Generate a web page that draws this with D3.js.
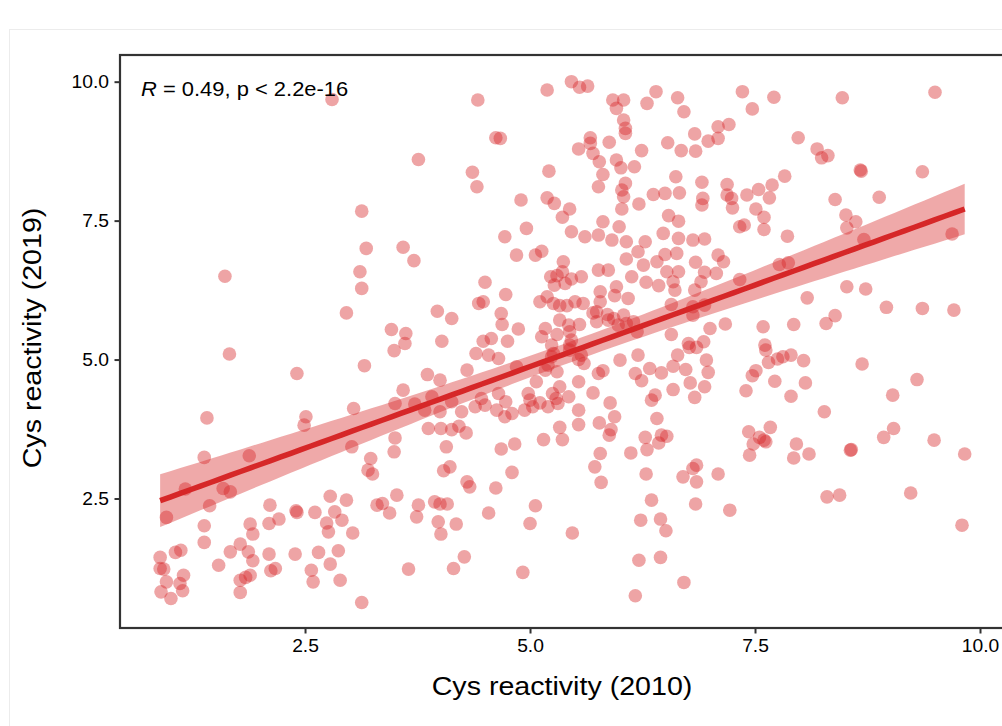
<!DOCTYPE html>
<html>
<head>
<meta charset="utf-8">
<script src="https://cdn.jsdelivr.net/npm/d3@7"></script>
<style>
  html, body { margin: 0; padding: 0; background: #fff; }
  svg { display: block; }
  text { font-family: "Liberation Sans", Arial, Helvetica, sans-serif; fill: #000; }
</style>
</head>
<body>
<svg id="chart" width="1002" height="726"></svg>
<script>
// ---- Data ----
const points2010 = [
  1.66,2.41,3.16,3.49,3.61,3.59,3.50,3.72,3.04,1.41,2.51,2.49,1.38,1.88,3.02,3.50,3.49,3.23,3.20,3.25,
  1.17,1.59,1.67,1.44,0.96,2.78,2.96,3.52,3.30,3.36,3.44,3.76,3.74,2.11,2.40,2.41,2.61,2.83,2.91,2.74,
  2.76,3.03,2.21,2.10,1.89,1.92,1.38,1.38,0.89,0.89,0.93,0.96,0.90,1.01,1.06,1.12,1.15,1.11,1.14,1.54,
  1.67,1.78,1.87,1.92,1.78,1.84,1.89,1.78,2.10,2.12,2.17,2.39,2.65,2.87,2.57,2.59,2.78,2.89,3.13,3.65,
  2.80,3.76,3.13,3.18,3.59,3.71,1.61,3.11,3.13,2.96,3.46,3.62,
  5.46,5.55,5.64,5.19,4.42,5.92,6.04,5.96,6.40,6.30,6.64,6.71,6.04,6.06,6.06,4.62,4.67,5.67,5.67,5.88,
  5.54,5.70,5.77,5.96,6.01,6.16,5.81,6.24,6.53,6.68,6.84,6.83,6.98,7.09,7.09,4.36,4.41,5.21,5.76,6.06,
  6.02,6.04,6.02,6.21,6.37,6.50,6.66,6.62,6.91,6.92,6.91,4.90,5.19,5.27,5.44,5.36,5.81,5.99,6.54,6.65,
  5.46,5.61,5.76,5.91,6.07,6.48,6.65,6.81,6.94,4.72,4.96,4.85,5.06,5.13,5.37,5.36,5.23,5.30,5.27,5.39,
  5.46,5.57,5.76,5.87,6.07,6.20,6.28,6.26,6.41,6.50,6.63,6.13,6.29,6.43,6.52,6.65,6.59,6.61,6.84,6.94,
  6.90,7.07,7.09,4.50,5.19,5.26,5.33,5.41,5.50,5.59,5.78,5.96,5.94,6.09,5.78,5.74,5.70,5.86,5.93,6.04,
  5.98,6.07,6.19,5.74,6.57,6.81,6.94,6.81,6.83,6.57,6.76,7.00,4.48,4.43,4.68,4.69,4.73,4.87,3.97,4.13,
  4.02,4.48,4.57,4.75,5.11,5.33,5.43,5.55,5.17,5.13,5.30,5.44,5.46,6.93,
  4.40,4.54,4.65,4.30,3.86,4.00,3.91,3.83,4.00,4.13,4.24,4.39,4.46,4.50,4.65,4.73,4.63,4.72,4.80,4.85,
  4.98,5.00,4.94,5.03,5.11,5.07,5.17,5.20,5.26,5.30,5.33,5.25,5.29,5.20,5.43,5.31,5.54,5.44,5.57,5.60,
  5.70,5.76,5.81,6.00,6.20,6.17,6.24,6.33,6.46,6.59,6.64,6.77,6.85,6.96,6.98,6.73,6.78,6.94,6.59,6.83,
  6.39,6.35,6.41,6.28,6.46,6.52,6.43,6.30,6.12,5.78,5.72,5.79,5.94,5.89,5.90,5.88,5.77,5.54,5.54,5.33,
  5.36,5.15,4.83,4.68,4.80,4.62,4.30,4.33,4.07,4.11,4.04,3.87,4.01,4.13,4.21,4.29,3.94,4.00,4.08,3.98,
  4.01,4.18,4.54,5.06,5.00,5.47,4.27,4.15,4.92,6.29,6.35,6.84,6.70,6.81,6.85,6.85,7.09,6.23,6.45,6.51,
  6.21,6.45,6.17,6.71,
  5.24,5.24,5.54,5.44,5.87,6.15,
  7.36,7.71,7.47,8.47,9.50,7.21,7.98,8.19,8.24,8.31,8.67,8.68,9.36,7.83,7.69,7.54,7.41,7.19,7.19,7.24,
  7.25,7.66,7.51,7.60,7.60,7.33,7.38,7.86,8.39,8.88,8.51,8.62,8.52,8.71,9.69,7.15,7.33,7.77,7.87,8.08,
  8.52,8.73,8.96,9.36,9.71,7.17,7.59,7.93,8.29,8.39,7.61,
  7.62,7.65,7.75,7.81,7.90,8.04,8.69,9.30,7.51,7.47,7.72,7.40,8.06,7.90,9.03,8.27,7.43,7.67,7.55,7.62,
  7.48,7.44,7.96,7.93,8.10,8.56,8.57,8.93,9.04,9.49,9.83,7.22,8.30,8.44,9.23,9.80,7.60
];
const points2019 = [
  5.10,4.75,4.89,5.16,5.29,4.45,4.21,4.20,4.12,3.95,3.97,3.82,3.24,3.27,3.43,3.59,3.34,3.22,3.01,2.94,
  2.67,2.68,2.62,2.37,2.16,2.54,2.47,2.56,2.38,2.41,2.24,2.38,2.17,2.38,2.28,2.25,2.25,2.26,2.11,2.06,
  1.90,1.88,2.13,2.05,2.04,1.86,2.01,1.71,1.44,1.24,1.23,1.00,0.82,0.70,1.53,1.57,1.12,0.97,0.84,1.30,
  1.54,1.68,1.54,1.38,1.03,1.08,1.12,0.81,1.50,1.20,1.24,1.50,1.53,1.56,1.21,1.00,1.32,1.03,0.63,1.23,
  9.68,8.60,7.67,7.00,7.02,6.78,6.50,6.58,6.28,5.84,5.54,5.47,
  10.0,9.90,9.92,9.85,9.67,9.67,9.67,9.52,9.82,9.61,9.71,9.46,9.31,9.16,9.07,8.99,8.98,8.99,8.89,8.91,
  8.79,8.71,8.56,8.59,8.45,8.47,8.33,8.76,8.90,8.76,8.75,9.06,8.93,9.19,8.98,8.37,8.11,8.39,8.11,8.17,
  8.05,7.93,7.71,7.80,7.97,7.99,8.00,8.29,8.19,7.90,7.78,7.87,7.91,7.81,7.71,7.56,7.48,7.39,7.59,7.49,
  7.30,7.21,7.24,7.15,7.12,7.27,7.18,7.15,7.17,7.21,7.36,6.88,6.88,6.95,6.76,6.58,6.49,6.51,6.34,6.37,
  6.45,6.49,6.61,6.61,6.81,6.94,7.12,6.70,6.76,6.89,6.91,6.49,6.39,6.33,6.58,6.58,6.40,6.25,6.75,6.57,
  6.40,6.55,6.88,6.39,6.13,6.01,5.97,5.97,6.04,6.01,6.22,6.31,6.15,6.10,6.04,5.86,5.84,5.81,5.74,5.80,
  5.62,5.65,5.50,5.68,5.99,5.95,5.98,5.80,6.25,5.45,5.29,5.56,6.04,6.01,5.83,5.63,6.17,5.55,5.87,5.74,
  5.33,5.33,5.38,5.33,6.04,5.71,5.62,5.63,5.56,5.41,5.45,5.50,5.35,5.32,
  5.11,5.08,5.02,4.81,4.73,4.63,4.33,4.09,4.06,4.24,4.06,4.15,4.30,4.18,4.39,4.24,4.09,3.97,4.03,4.87,
  4.39,4.27,4.09,4.15,4.22,4.60,4.81,4.90,5.11,4.78,4.51,4.39,4.30,4.15,4.33,4.21,4.60,5.26,5.08,4.93,
  4.40,4.75,4.80,4.99,5.08,4.75,4.62,4.84,4.76,4.88,5.08,5.22,5.22,4.99,4.77,4.82,4.58,4.51,4.46,4.32,
  4.36,4.27,3.94,3.60,3.64,3.62,3.50,3.38,3.32,3.31,3.07,2.79,3.97,4.22,3.74,3.64,3.86,4.09,3.83,3.78,
  3.56,3.56,3.48,3.39,2.97,2.69,2.80,2.71,3.43,3.07,3.00,3.76,3.76,3.74,3.80,3.68,2.44,2.40,2.40,2.08,
  1.86,2.04,2.24,2.37,2.05,1.88,1.45,1.24,1.17,2.94,2.47,2.40,2.89,3.04,3.10,2.80,2.94,2.11,2.13,1.92,
  1.39,1.44,0.75,0.99,
  5.26,5.05,5.00,5.17,5.71,5.68,
  9.82,9.72,9.51,9.71,9.81,9.23,8.99,8.79,8.63,8.67,8.41,8.39,8.38,8.30,8.14,8.06,7.96,8.15,7.96,7.90,
  7.73,7.91,7.71,7.56,7.34,7.39,7.42,7.22,7.88,7.92,7.60,7.48,7.37,7.16,7.26,6.76,6.44,6.71,6.74,6.11,
  6.31,6.27,5.94,5.92,5.89,5.64,5.59,5.63,5.65,5.79,5.26,
  5.17,4.95,5.01,5.05,5.08,4.98,4.92,4.64,4.80,4.71,4.61,4.44,4.58,4.34,4.36,4.06,3.70,3.78,3.60,3.52,
  3.48,3.28,3.48,3.23,3.30,3.37,3.38,3.60,3.76,3.55,3.30,2.29,2.53,2.56,2.60,2.02,3.55
];
const xTicks = [2.5, 5.0, 7.5, 10.0];
const yTicks = [2.5, 5.0, 7.5, 10.0];
const xTitle = "Cys reactivity (2010)";
const yTitle = "Cys reactivity (2019)";
const statR = "0.49";
const statP = "2.2e-16";

// ---- Layout ----
const svg = d3.select("#chart");
const panel = { left: 120, top: 55, right: 1007, bottom: 628 };
const x = d3.scaleLinear().domain([0.444, 10.3]).range([panel.left, panel.right]);
const y = d3.scaleLinear().domain([0.17, 10.48]).range([panel.bottom, panel.top]);
const red = "#d62728";
const stretch = 1.1; // text in the reference is slightly wider than tall

// faint outer frame
svg.append("rect").attr("x", 9.5).attr("y", 29.5).attr("width", 1100).attr("height", 800)
  .attr("fill", "none").attr("stroke", "#ececec").attr("stroke-width", 1);

const data = points2010.map((v, i) => ({ x: v, y: points2019[i] }));

svg.append("clipPath").attr("id", "clip").append("rect")
  .attr("x", panel.left).attr("y", panel.top)
  .attr("width", panel.right - panel.left).attr("height", panel.bottom - panel.top);

const plot = svg.append("g").attr("clip-path", "url(#clip)");

// points
plot.append("g").selectAll("circle").data(data).join("circle")
  .attr("cx", d => x(d.x)).attr("cy", d => y(d.y)).attr("r", 6.8)
  .attr("fill", red).attr("fill-opacity", 0.42);

// linear fit with 95% confidence band (computed from the data)
const n = data.length;
const mx = d3.mean(data, d => d.x), my = d3.mean(data, d => d.y);
const sxx = d3.sum(data, d => (d.x - mx) ** 2);
const sxy = d3.sum(data, d => (d.x - mx) * (d.y - my));
const slope = sxy / sxx, intercept = my - slope * mx;
const s = Math.sqrt(d3.sum(data, d => (d.y - intercept - slope * d.x) ** 2) / (n - 2));
const [xmin, xmax] = d3.extent(data, d => d.x);
const grid = d3.range(0, 81).map(i => xmin + (xmax - xmin) * i / 80);
const fit = grid.map(g => {
  const yh = intercept + slope * g;
  const h = 1.965 * s * Math.sqrt(1 / n + (g - mx) ** 2 / sxx);
  return { x: g, y: yh, lo: yh - h, hi: yh + h };
});
plot.append("path").datum(fit)
  .attr("d", d3.area().x(d => x(d.x)).y0(d => y(d.lo)).y1(d => y(d.hi)))
  .attr("fill", red).attr("fill-opacity", 0.4);
plot.append("path").datum(fit)
  .attr("d", d3.line().x(d => x(d.x)).y(d => y(d.y)))
  .attr("fill", "none").attr("stroke", red).attr("stroke-width", 5.5);

// panel border
svg.append("rect").attr("x", panel.left).attr("y", panel.top)
  .attr("width", panel.right - panel.left).attr("height", panel.bottom - panel.top)
  .attr("fill", "none").attr("stroke", "#333").attr("stroke-width", 2.2);

// axes
const fmt = d3.format(".1f");
const xAxis = svg.append("g").attr("transform", `translate(0,${panel.bottom})`)
  .call(d3.axisBottom(x).tickValues(xTicks).tickFormat(fmt).tickSize(5.5).tickPadding(6));
const yAxis = svg.append("g").attr("transform", `translate(${panel.left},0)`)
  .call(d3.axisLeft(y).tickValues(yTicks).tickFormat(fmt).tickSize(5.5).tickPadding(4.5));
[xAxis, yAxis].forEach(a => {
  a.select(".domain").remove();
  a.selectAll(".tick line").attr("stroke", "#333").attr("stroke-width", 2);
  a.selectAll(".tick text").attr("font-size", 17.5).attr("fill", "#222")
    .attr("font-family", "'Liberation Sans', Arial, sans-serif")
    .attr("transform", `scale(${stretch},1)`);
});

// titles
svg.append("text").attr("transform", `translate(562,695) scale(${stretch},1)`)
  .attr("text-anchor", "middle").attr("font-size", 26).text(xTitle);
svg.append("text").attr("transform", `translate(41,338) rotate(-90) scale(${stretch},1)`)
  .attr("text-anchor", "middle").attr("font-size", 26).text(yTitle);

// correlation annotation
const ann = svg.append("text").attr("transform", "translate(141,96) scale(1.07,1)")
  .attr("font-size", 20.5);
ann.append("tspan").attr("font-style", "italic").text("R");
ann.append("tspan").text(` = ${statR}, p < ${statP}`);
</script>
</body>
</html>
